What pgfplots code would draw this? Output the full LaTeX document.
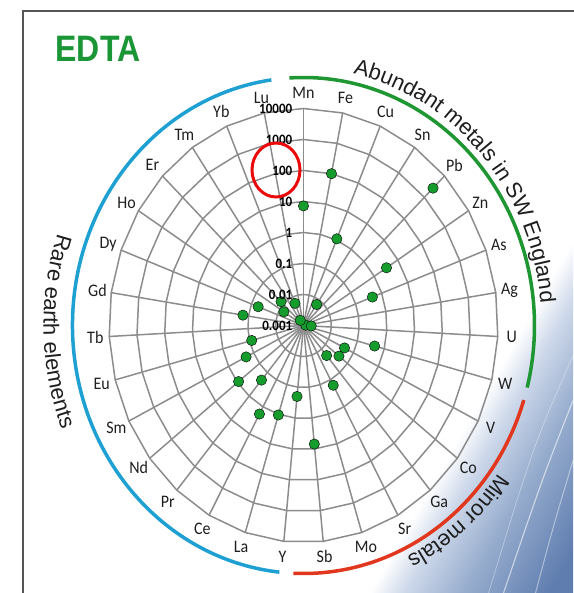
\documentclass[border=0pt]{standalone}
\usepackage{fontspec}
\setmainfont{Carlito}
\newfontfamily\arialf{Liberation Sans}
\usepackage{graphicx}
\usepackage{pgfplots}
\pgfplotsset{compat=1.18}
\usepackage{pgfplotstable}
\usetikzlibrary{decorations.text}

\definecolor{dotgreen}{RGB}{22,155,45}
\definecolor{titlegreen}{RGB}{26,150,55}
\definecolor{gridgray}{RGB}{140,140,140}
\definecolor{reeblue}{RGB}{30,160,210}
\definecolor{abgreen}{RGB}{30,150,50}
\definecolor{minred}{RGB}{225,55,30}
\definecolor{circred}{RGB}{235,10,10}
\definecolor{steel}{RGB}{95,125,175}
\definecolor{steelmid}{RGB}{150,172,205}
\definecolor{steellight}{RGB}{205,216,234}
\definecolor{darktext}{RGB}{30,30,30}
\definecolor{framegray}{RGB}{85,85,85}

\pgfdeclarehorizontalshading{swoosh}{1200bp}{color(0bp)=(white); color(190bp)=(white); color(220bp)=(steellight); color(272bp)=(steelmid); color(345bp)=(steel); color(600bp)=(steel)}

\newcommand\vs[1]{\scalebox{1}[1.1]{#1}}
\newcommand\arcfont{\arialf\fontsize{22}{26}\selectfont}

% EDTA concentrations by element index (0 = Mn, clockwise)
\pgfplotstableread{
i v
0 7.2
1 100
2 1.1
3 0.0067
4 2700
5 3.3
6 0.44
7 0.0012
8 0.0019
9 0.44
10 0.044
11 0.041
12 0.019
13 0.16
15 7.0
16 0.2
17 1.06
18 1.85
19 0.21
20 0.9
21 0.2
22 0.084
24 0.16
25 0.055
26 0.0068
27 0.013
28 0.0016
29 0.006
}\edta

\pgfplotstableread{
k d
0 0
1 0
2 0
3 0
4 0
5 0
6 0
7 0
8 0
9 0
10 0
11 0
12 0
13 0
14 0
15 0
16 0
17 0
18 0
19 0
20 0
21 0
22 0
23 0
24 0
25 0
26 0
27 0
28 0
29 0
30 0
31 0
}\ringpts

\pgfplotstableread{
r d
0 0
7 0
}\spokepts

\begin{document}
\begin{tikzpicture}[x=27.79pt,y=31pt]
\useasboundingbox (-303.5pt,-267.5pt) rectangle (269.5pt,325.5pt);
% background swoosh
\begin{scope}
\clip (-303.5pt,-267.5pt) rectangle (269.5pt,325.5pt);
\node[rotate=-30, inner sep=0pt, outer sep=0pt, anchor=west] at (0,0) {\pgfuseshading{swoosh}};
\draw[white, opacity=0.55, line width=1.2pt] (269.5pt,-75pt) .. controls (240pt,-150pt) .. (200pt,-267.5pt);
\draw[white, opacity=0.45, line width=1pt] (269.5pt,-135pt) .. controls (250pt,-200pt) .. (232pt,-267.5pt);
\draw[white, opacity=0.35, line width=0.8pt] (269.5pt,-30pt) .. controls (230pt,-120pt) .. (185pt,-267.5pt);
\end{scope}
% frame
\draw[framegray, line width=2.5pt] (-280.5pt,-270pt) -- (-280.5pt,314.5pt) -- (272pt,314.5pt);

\begin{axis}[anchor=origin, at={(0,0)}, x=27.79pt, y=31pt,
  xmin=-7.2, xmax=7.2, ymin=-7.2, ymax=7.2, hide axis, clip=false]
\pgfplotsinvokeforeach{1,...,7}{
  \addplot[gridgray, line width=1.5pt, mark=none] table[x expr={#1*sin(\thisrow{k}*360/31)}, y expr={#1*cos(\thisrow{k}*360/31)}] {\ringpts};
}
\pgfplotsinvokeforeach{0,...,30}{
  \addplot[gridgray, line width=1.5pt, mark=none] table[x expr={\thisrow{r}*sin(#1*360/31)}, y expr={\thisrow{r}*cos(#1*360/31)}] {\spokepts};
}
\addplot[only marks, mark=*, mark size=5.2pt, mark options={draw=none, fill=dotgreen}]
  table[x expr={(ln(\thisrow{v})/ln(10)+3)*sin(\thisrow{i}*360/31)},
        y expr={(ln(\thisrow{v})/ln(10)+3)*cos(\thisrow{i}*360/31)}] {\edta};
\end{axis}

% radial tick labels
\foreach \lab [count=\k from 0] in {0.001,0.01,0.1,1,10,100,1000,10000}
  \node[anchor=east, inner sep=0pt, font=\bfseries\fontsize{13}{15}\selectfont, text=black] at (-0.4,\k) {\vs{\lab}};
% element labels
\foreach \n [count=\i from 0] in {Mn,Fe,Cu,Sn,Pb,Zn,As,Ag,U,W,V,Co,Ga,Sr,Mo,Sb,Y,La,Ce,Pr,Nd,Sm,Eu,Tb,Gd,Dy,Ho,Er,Tm,Yb,Lu}
  \node[inner sep=0pt, font=\fontsize{16}{18}\selectfont, text=darktext] at ({7.5*sin(\i*360/31)},{7.5*cos(\i*360/31)}) {\vs{\n}};

% red highlight circle
\draw[circred, line width=3pt] (-27.5pt,155.5pt) ellipse [x radius=24pt, y radius=27pt];

% group arcs
\draw[reeblue, line width=3.5pt] (98:231pt and 248pt) arc[start angle=98, end angle=264, x radius=231pt, y radius=248pt];
\draw[abgreen, line width=3.5pt] (93.5:231pt and 248pt) arc[start angle=93.5, end angle=-14.5, x radius=231pt, y radius=248pt];
\draw[minred, line width=3.5pt] (-17.5:231pt and 248pt) arc[start angle=-17.5, end angle=-92.5, x radius=231pt, y radius=248pt];

% arc texts
\path[decorate, decoration={text along path, text color=darktext, text={|\arcfont|Abundant metals in SW England}, text align=left}]
  (78:238pt and 257pt) arc[start angle=78, end angle=-20, x radius=238pt, y radius=257pt];
\path[decorate, decoration={text along path, text color=darktext, text={|\arcfont|Minor metals}, text align=left}]
  (-35:238pt and 257pt) arc[start angle=-35, end angle=-90, x radius=238pt, y radius=257pt];
\path[decorate, decoration={text along path, text color=darktext, text={|\arcfont|Rare earth elements}, text align=left}]
  (161:260pt and 282pt) arc[start angle=161, end angle=220, x radius=260pt, y radius=282pt];

% title
\node[font=\arialf\bfseries\fontsize{32}{36}\selectfont, text=titlegreen] at (-205.5pt,276.5pt) {\scalebox{1}[1.15]{EDTA}};
\end{tikzpicture}
\end{document}
